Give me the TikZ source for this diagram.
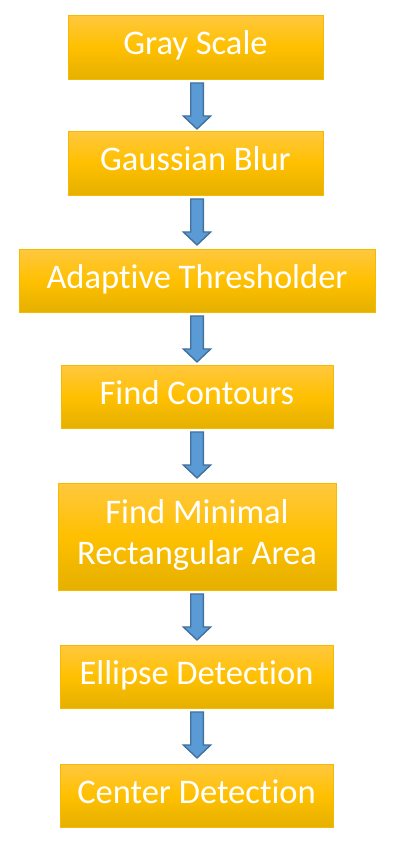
\documentclass[tikz,border=0pt]{standalone}
\usepackage{fontspec}
\setmainfont{Carlito}[Ligatures=NoCommon]
\usetikzlibrary{calc}
\definecolor{goldtop}{HTML}{FFC83F}
\definecolor{goldmid}{HTML}{FFC000}
\definecolor{goldbot}{HTML}{E5B000}
\definecolor{boxborder}{HTML}{F5BA00}
\definecolor{arrowfill}{HTML}{5B9BD5}
\definecolor{arrowborder}{HTML}{41719C}
\tikzset{
  stepbox/.style={draw=boxborder, line width=0.9pt,
    top color=goldtop, bottom color=goldbot, middle color=goldmid,
    text=white, font=\fontsize{34.5}{41}\selectfont,
    inner sep=0pt, text height=24pt, text depth=9pt, align=center},
  blockarr/.style={draw=arrowborder, fill=arrowfill, line width=1.4pt,
    line join=miter,
    to path={let \p1=(\tikztostart.south) in
      (190.7pt,\y1-3.5pt) -- (203.3pt,\y1-3.5pt) -- (203.3pt,\y1-36.5pt)
      -- (210.7pt,\y1-36.5pt) -- (197pt,\y1-49.5pt) -- (183.3pt,\y1-36.5pt)
      -- (190.7pt,\y1-36.5pt) -- cycle}}
}
\begin{document}
\begin{tikzpicture}[x=1pt,y=-1pt]
\useasboundingbox (0,0) rectangle (416,860);
\node[stepbox, minimum width=255pt, minimum height=64pt] (gray) at (195.5,47) {Gray Scale};
\node[stepbox, minimum width=255pt, minimum height=64pt] (blur) at (195.5,163) {Gaussian Blur};
\node[stepbox, minimum width=356pt, minimum height=63pt] (thresh) at (197,280.5) {Adaptive Thresholder};
\node[stepbox, minimum width=272pt, minimum height=63pt] (cont) at (197,396.5) {Find Contours};
\node[stepbox, minimum width=278pt, minimum height=107pt, text height=65pt, text depth=9pt] (rect) at (197,536.5) {Find Minimal\\Rectangular Area};
\node[stepbox, minimum width=273pt, minimum height=63pt] (ell) at (196.5,676.5) {Ellipse Detection};
\node[stepbox, minimum width=273pt, minimum height=63pt] (cent) at (196.5,795.5) {Center Detection};
\path[blockarr] (gray) to (blur);
\path[blockarr] (blur) to (thresh);
\path[blockarr] (thresh) to (cont);
\path[blockarr] (cont) to (rect);
\path[blockarr] (rect) to (ell);
\path[blockarr] (ell) to (cent);
\end{tikzpicture}
\end{document}
